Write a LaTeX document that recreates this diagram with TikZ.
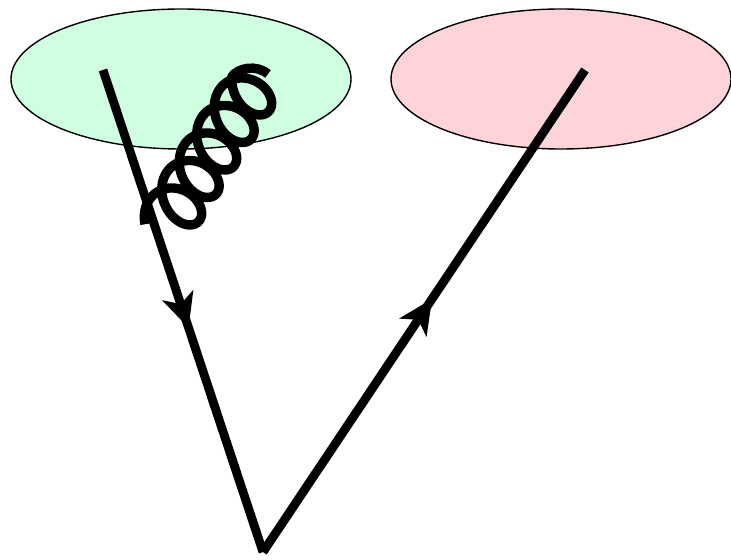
\documentclass[tikz,border=0pt]{standalone}
\usetikzlibrary{shapes.geometric}
\usetikzlibrary{decorations.markings}
\usetikzlibrary{arrows.meta}
\definecolor{blobgreen}{HTML}{CFFFE0}
\definecolor{blobred}{HTML}{FFD3DA}
\tikzset{
	blob/.style={ellipse, draw=black, line width=0.7pt, minimum width=170pt, minimum height=70pt, inner sep=0pt},
	quark/.style={black, line width=4.4pt, postaction={decorate}, decoration={
			markings,
			mark=at position #1 with {\arrow{Stealth[length=17pt, width=16pt, inset=4.5pt]}}}
	},
	gluon/.style={black, line width=4.7pt, line join=round}
}

\begin{document}
\begin{tikzpicture}[x=0.5pt, y=-0.5pt]
	\useasboundingbox (0,0) rectangle (731,560);
	\node[blob, fill=blobgreen] (jetL) at (181,79) {};
	\node[blob, fill=blobred] (jetR) at (561,79) {};
	\coordinate (quarkL) at (103,70);
	\coordinate (quarkR) at (585,70);
	\coordinate (vtx) at (263,552);
	\coordinate (gluonEnd) at (268,74);
	\draw[quark=0.535] (quarkL) -- (vtx);
	\draw[quark=0.525] (vtx) -- (quarkR);
	\draw[gluon] plot[domain=-50:1770, samples=320, smooth]
		({170+\x/360*17.5-27*cos(\x)*0.78+22*sin(\x)*0.537},
		 {217-\x/360*27.5-27*cos(\x)*0.62-22*sin(\x)*0.844})
		.. controls (238,68) and (256,64) .. (gluonEnd);
\end{tikzpicture}
\end{document}
